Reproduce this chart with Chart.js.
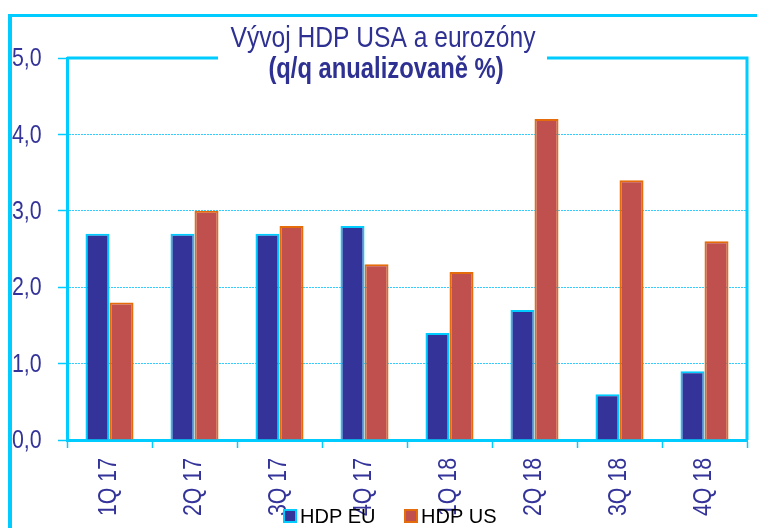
<!DOCTYPE html>
<html lang="cs">
<head>
<meta charset="UTF-8">
<title>Vývoj HDP USA a eurozóny</title>
<script src="https://cdn.jsdelivr.net/npm/chart.js"></script>
<style>
  body { margin: 0; background: #fff; }
  #wrap { width: 757px; height: 528px; }
</style>
</head>
<body>
<div id="wrap"><canvas id="hdpChart" width="757" height="528"></canvas></div>
<script>
// data
const quarters = ['1Q 17', '2Q 17', '3Q 17', '4Q 17', '1Q 18', '2Q 18', '3Q 18', '4Q 18'];
const hdpEU = [2.7, 2.7, 2.7, 2.8, 1.4, 1.7, 0.6, 0.9];
const hdpUS = [1.8, 3.0, 2.8, 2.3, 2.2, 4.2, 3.4, 2.6];
const seriesNames = ['HDP EU', 'HDP US'];
const titleLines = ['Vývoj HDP USA a eurozóny', '(q/q anualizovaně %)'];

const CYAN = '#00ccff';
const NAVY = '#333399';
const SANS = "'Liberation Sans', Arial, sans-serif";
const NARROW = 0.82; // Arial Narrow není k dispozici -> zúžení písma

// text zúžený vodorovně (ve směru psaní)
function narrowText(ctx, text, x, y, rot, align) {
    ctx.save();
    ctx.translate(x, y);
    if (rot) ctx.rotate(rot);
    ctx.scale(NARROW, 1);
    ctx.textAlign = align;
    ctx.fillText(text, 0, 0);
    ctx.restore();
}

// rámeček, popisky os, nadpis a legenda
const decorPlugin = {
    id: 'decor',
    afterDraw(chart) {
        const ctx = chart.ctx;
        const a = chart.chartArea;
        ctx.save();
        // vnější rámeček
        ctx.fillStyle = CYAN;
        ctx.fillRect(8, 14, 749, 3);
        ctx.fillRect(8, 14, 4, 514);
        // horní a pravá strana plochy grafu
        ctx.strokeStyle = CYAN;
        ctx.lineWidth = 3;
        ctx.beginPath();
        ctx.moveTo(a.left, a.top);
        ctx.lineTo(218, a.top);
        ctx.moveTo(547, a.top);
        ctx.lineTo(a.right, a.top);
        ctx.lineTo(a.right, a.bottom);
        ctx.stroke();

        // popisky os podle měřítek Chart.js
        ctx.fillStyle = NAVY;
        ctx.font = '26px ' + SANS;
        ctx.textBaseline = 'middle';
        const ys = chart.scales.y;
        ys.ticks.forEach((t, i) => {
            narrowText(ctx, ys.getLabelForValue ? ys.ticks[i].label : t.label, 12, ys.getPixelForTick(i) + 1, 0, 'left');
        });
        const xs = chart.scales.x;
        xs.ticks.forEach((t, i) => {
            narrowText(ctx, xs.getLabelForValue(t.value), xs.getPixelForTick(i) - 1, a.bottom + 18, -Math.PI / 2, 'right');
        });

        // nadpis
        ctx.fillStyle = '#2e3192';
        ctx.textBaseline = 'alphabetic';
        ctx.font = '30px ' + SANS;
        narrowText(ctx, titleLines[0], 383, 47, 0, 'center');
        ctx.font = 'bold 29px ' + SANS;
        narrowText(ctx, titleLines[1], 386, 78, 0, 'center');

        // legenda
        const ds = chart.data.datasets;
        const legendX = [284, 405];
        ctx.textAlign = 'left';
        ctx.font = '20px ' + SANS;
        ds.forEach((d, i) => {
            const x = legendX[i];
            ctx.fillStyle = d.backgroundColor;
            ctx.fillRect(x, 510, 12, 12);
            ctx.strokeStyle = d.borderColor;
            ctx.lineWidth = 2;
            ctx.strokeRect(x, 510, 12, 12);
            ctx.fillStyle = '#000';
            ctx.fillText(d.label, x + 16, 523);
        });
        ctx.restore();
    }
};

new Chart(document.getElementById('hdpChart'), {
    type: 'bar',
    data: {
        labels: quarters,
        datasets: [
            {
                label: seriesNames[0],
                data: hdpEU,
                backgroundColor: NAVY,
                borderColor: CYAN,
                borderWidth: 2,
                categoryPercentage: 0.565,
                barPercentage: 1
            },
            {
                label: seriesNames[1],
                data: hdpUS,
                backgroundColor: '#c0504d',
                borderColor: '#e46c0a',
                borderWidth: 2,
                categoryPercentage: 0.565,
                barPercentage: 1
            }
        ]
    },
    options: {
        responsive: false,
        animation: false,
        layout: { padding: { left: 12, top: 58, right: 10, bottom: 0 } },
        plugins: {
            legend: { display: false },
            title: { display: false },
            tooltip: { enabled: false }
        },
        scales: {
            x: {
                grid: {
                    offset: true,
                    drawOnChartArea: false,
                    tickLength: 8,
                    tickColor: CYAN,
                    tickWidth: 1.5
                },
                border: { color: CYAN, width: 3 },
                ticks: { display: false },
                afterFit(scale) { scale.height = 88; }
            },
            y: {
                min: 0,
                max: 5,
                ticks: {
                    display: false,
                    stepSize: 1,
                    callback: v => v.toFixed(1).replace('.', ',')
                },
                grid: {
                    color: c => (c.tick.value === 0 || c.tick.value === 5) ? 'rgba(0,0,0,0)' : '#33ccff',
                    lineWidth: 1,
                    tickLength: 9,
                    tickColor: CYAN,
                    tickWidth: 1.5
                },
                border: { color: CYAN, width: 3, dash: [2, 1] },
                afterFit(scale) { scale.width = 55; }
            }
        }
    },
    plugins: [decorPlugin]
});
</script>
</body>
</html>
